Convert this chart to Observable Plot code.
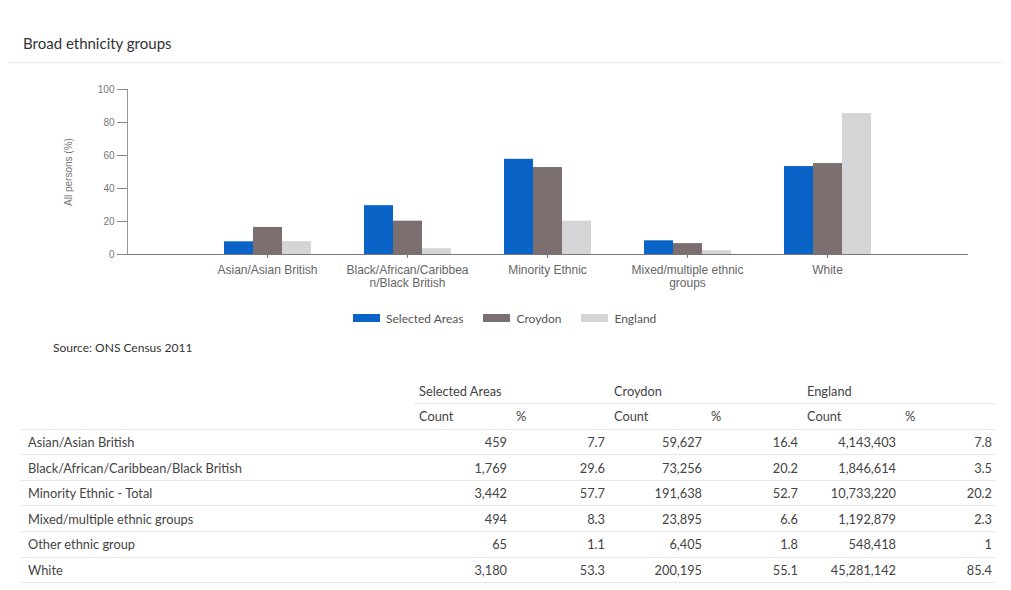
<!DOCTYPE html>
<html><head><meta charset="utf-8">
<script src="https://cdn.jsdelivr.net/npm/d3@7"></script>
<script src="https://cdn.jsdelivr.net/npm/@observablehq/plot@0.6"></script>
<style>
html,body{margin:0;padding:0;background:#fff}
body{width:1011px;height:590px;position:relative;overflow:hidden;font-family:Lato,"Open Sans",sans-serif;color:#333}
#title{position:absolute;left:23px;top:33px;font-size:15px;line-height:20px;color:#333}
#hr{position:absolute;left:8px;width:995px;top:62px;border-top:1px solid #ececec}
.chart{position:absolute;left:0;top:75px}
#legend{position:absolute;top:311px;left:353px;display:flex;align-items:center;font-size:12px;color:#555;height:14px}
#legend .item{display:flex;align-items:center;margin-right:20px}
#legend .sw{width:27px;height:8px;margin-right:6px}
#source{position:absolute;left:53px;top:340px;font-size:12px;color:#333}
#tbl{position:absolute;left:20px;top:378px;border-collapse:collapse;font-size:12.8px;color:#444;table-layout:fixed}
#tbl td{height:25.6px;padding:0 4px 0 5px;white-space:nowrap;box-sizing:border-box;border-bottom:1px solid #e8e8e8}
#tbl td.num{text-align:right}
#tbl tr.h1 td{border-bottom:none}
#tbl tr.h1 td.grp{border-bottom:1px solid #e8e8e8}
#tbl td.lab{padding-left:8px}
</style></head>
<body>
<div id="title">Broad ethnicity groups</div>
<div id="hr"></div>
<div id="axes" class="chart"></div>
<div id="bars" class="chart"></div>
<div id="legend"></div>
<div id="source">Source: ONS Census 2011</div>
<table id="tbl"></table>
<script>
// ---- chart data ----
const categories = ["Asian/Asian British", "Black/African/Caribbean/Black British", "Minority Ethnic", "Mixed/multiple ethnic groups", "White"];
const tickLabels = ["Asian/Asian British", "Black/African/Caribbea\nn/Black British", "Minority Ethnic", "Mixed/multiple ethnic\ngroups", "White"];
const seriesNames = ["Selected Areas", "Croydon", "England"];
const selectedPct = [7.7, 29.6, 57.7, 8.3, 53.3];
const croydonPct = [16.4, 20.2, 52.7, 6.6, 55.1];
const englandPct = [7.8, 3.5, 20.2, 2.3, 85.4];
const seriesColors = ["#0a63c6", "#7b6f6f", "#d5d5d7"];
const yTicks = [0, 20, 40, 60, 80, 100];

// ---- table data ----
const tableRows = ["Asian/Asian British", "Black/African/Caribbean/Black British", "Minority Ethnic - Total", "Mixed/multiple ethnic groups", "Other ethnic group", "White"];
const selCount = ["459", "1,769", "3,442", "494", "65", "3,180"];
const selPctT = ["7.7", "29.6", "57.7", "8.3", "1.1", "53.3"];
const croCount = ["59,627", "73,256", "191,638", "23,895", "6,405", "200,195"];
const croPctT = ["16.4", "20.2", "52.7", "6.6", "1.8", "55.1"];
const engCount = ["4,143,403", "1,846,614", "10,733,220", "1,192,879", "548,418", "45,281,142"];
const engPctT = ["7.8", "3.5", "20.2", "2.3", "1", "85.4"];

const seriesValues = [selectedPct, croydonPct, englandPct];
const data = [];
categories.forEach((c, i) => seriesNames.forEach((s, j) => data.push({category: c, series: s, value: seriesValues[j][i]})));
const labelOf = new Map(categories.map((c, i) => [c, tickLabels[i]]));

const common = {
  width: 1011, height: 224,
  marginLeft: 127, marginRight: 44, marginTop: 14, marginBottom: 45,
  style: {fontFamily: "'Liberation Sans', Arial, sans-serif", fontSize: "10px", color: "#666", background: "transparent"},
  y: {domain: [0, 100], axis: null}
};

// axes layer: category band scale, y axis, baseline
const axes = Plot.plot({
  ...common,
  x: {type: "band", domain: categories, paddingInner: 0, paddingOuter: 0.495, axis: null},
  marks: [
    Plot.axisX({tickSize: 4, tickPadding: 6, tickFormat: d => labelOf.get(d), label: null, lineHeight: 1.1, fontSize: 12, stroke: "#777", fill: "#666"}),
    Plot.axisY({ticks: yTicks, tickSize: 10, tickPadding: 3, label: "All persons (%)", labelAnchor: "center", labelArrow: "none", labelOffset: 63, stroke: "#888", fill: "#777"}),
    Plot.frame({anchor: "bottom", stroke: "#777"}),
    Plot.frame({anchor: "left", stroke: "#999"})
  ]
});
document.getElementById("axes").appendChild(axes);

// bars layer: grouped bars via fx facets on the same band layout
const bars = Plot.plot({
  ...common,
  fx: {domain: categories, paddingInner: 0, paddingOuter: 0.495, axis: null, label: null},
  x: {domain: seriesNames, paddingInner: 0, paddingOuter: 0.84, axis: null},
  color: {domain: seriesNames, range: seriesColors},
  marks: [
    Plot.barY(data, {fx: "category", x: "series", y: "value", fill: "series"})
  ]
});
document.getElementById("bars").appendChild(bars);

// legend
const legend = document.getElementById("legend");
seriesNames.forEach((s, i) => {
  const it = document.createElement("div"); it.className = "item";
  const sw = document.createElement("div"); sw.className = "sw"; sw.style.background = seriesColors[i];
  const tx = document.createElement("span"); tx.textContent = s;
  it.appendChild(sw); it.appendChild(tx); legend.appendChild(it);
});

// table
const tbl = document.getElementById("tbl");
const colW = [394, 97, 98, 97, 96, 98, 96];
const cg = document.createElement("colgroup");
colW.forEach(w => { const c = document.createElement("col"); c.style.width = w + "px"; cg.appendChild(c); });
tbl.appendChild(cg);
function addRow(cells, cls) {
  const tr = document.createElement("tr"); if (cls) tr.className = cls;
  cells.forEach(([text, c, span]) => {
    const td = document.createElement("td"); td.textContent = text; if (c) td.className = c; if (span) td.colSpan = span; tr.appendChild(td);
  });
  tbl.appendChild(tr);
}
addRow([["", ""], ["Selected Areas", "grp", 2], ["Croydon", "grp", 2], ["England", "grp", 2]], "h1");
addRow([["", ""], ["Count"], ["%"], ["Count"], ["%"], ["Count"], ["%"]]);
tableRows.forEach((r, i) => addRow([[r, "lab"], [selCount[i], "num"], [selPctT[i], "num"], [croCount[i], "num"], [croPctT[i], "num"], [engCount[i], "num"], [engPctT[i], "num"]]));
</script>
</body></html>
